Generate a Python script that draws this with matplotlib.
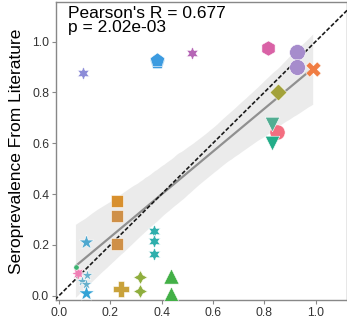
import numpy as np
import matplotlib
matplotlib.use('Agg')
import matplotlib.pyplot as plt
import seaborn as sns

plt.rcParams['font.family'] = ['Liberation Sans', 'DejaVu Sans']

# estimated vs literature seroprevalence, one entry per study point
est = [0.095, 0.381, 0.381, 0.518, 0.815, 0.928, 0.926, 0.991, 0.854,
       0.850, 0.831, 0.831, 0.228, 0.228, 0.228, 0.105, 0.371, 0.371,
       0.371, 0.316, 0.316, 0.436, 0.436, 0.241, 0.105, 0.075, 0.066,
       0.108, 0.089, 0.105]
lit = [0.878, 0.920, 0.928, 0.954, 0.976, 0.958, 0.902, 0.891, 0.802,
       0.646, 0.676, 0.602, 0.374, 0.315, 0.203, 0.210, 0.255, 0.217,
       0.163, 0.075, 0.018, 0.077, 0.007, 0.025, 0.012, 0.089, 0.112,
       0.083, 0.056, 0.046]
colors = ['#8c8cd8', '#3c9be0', '#3c9be0', '#b565b5', '#d962a6', '#a68ccc',
          '#a68ccc', '#f07d43', '#a3a23a', '#f36e80', '#52ad92', '#23ad89',
          '#d8902e', '#cf9048', '#cf9048', '#4fa8cf', '#2eafac', '#2eafac',
          '#2eafac', '#8fae3e', '#8fae3e', '#43b047', '#43b047', '#c9a23b',
          '#33a3d6', '#f07fb5', '#3cb371', '#66b0cc', '#66b0cc', '#66b0cc']
markers = [(6, 1, 0), 'p', 'p', (6, 1, 0), 'h', 'o', 'o', 'X', 'D',
           'o', 'v', 'v', 's', 's', 's', '*', (6, 1, 0), (6, 1, 0),
           (6, 1, 0), (4, 1, 0), (4, 1, 0), '^', '^', 'P', '*', (8, 1, 0),
           'o', '*', '*', '*']
sizes = [95, 120, 120, 95, 120, 130, 130, 120, 75, 120, 110, 110, 75,
         75, 75, 130, 95, 95, 95, 100, 100, 120, 120, 130, 140, 100, 15,
         70, 70, 70]

fig = plt.figure(figsize=(3.47, 3.22), dpi=100)
ax = fig.add_axes([0.1614, 0.0683, 0.8386, 0.9255])

sns.regplot(x=np.array(est), y=np.array(lit), scatter=False, ax=ax,
            color='#909090', seed=0, line_kws={'lw': 1.6, 'zorder': 2})
for coll in ax.collections:
    coll.set_facecolor('#e8e8e8')
    coll.set_alpha(0.85)

ax.plot([-0.05, 1.2], [-0.05, 1.2], ls=(0, (2.5, 1.2)), color='#1a1a1a',
        lw=1.2, zorder=3)

for xi, yi, c, m, s in zip(est, lit, colors, markers, sizes):
    ax.scatter(xi, yi, color=c, marker=m, s=s, edgecolor='white',
               linewidth=0.4, zorder=4)

ax.set_xlim(-0.0117, 1.1228)
ax.set_ylim(-0.017, 1.156)
ax.set_xticks([0.0, 0.2, 0.4, 0.6, 0.8, 1.0])
ax.set_yticks([0.0, 0.2, 0.4, 0.6, 0.8, 1.0])
ax.set_xticklabels(['0.0', '0.2', '0.4', '0.6', '0.8', '1.0'])
ax.set_yticklabels(['0.0', '0.2', '0.4', '0.6', '0.8', '1.0'])
ax.tick_params(labelsize=8.8, colors='#333333', length=3, width=0.8,
               color='#888888', pad=2)
for sp in ax.spines.values():
    sp.set_color('#888888')
    sp.set_linewidth(1.0)

ax.set_ylabel('Seroprevalence From Literature', fontsize=12.5)
ax.yaxis.set_label_coords(-0.11, 0.5)

ax.text(0.04, 0.988, "Pearson's R = 0.677\np = 2.02e-03",
        transform=ax.transAxes, fontsize=12.5, va='top', ha='left',
        linespacing=0.95)

fig.savefig('out.png', dpi=100)
